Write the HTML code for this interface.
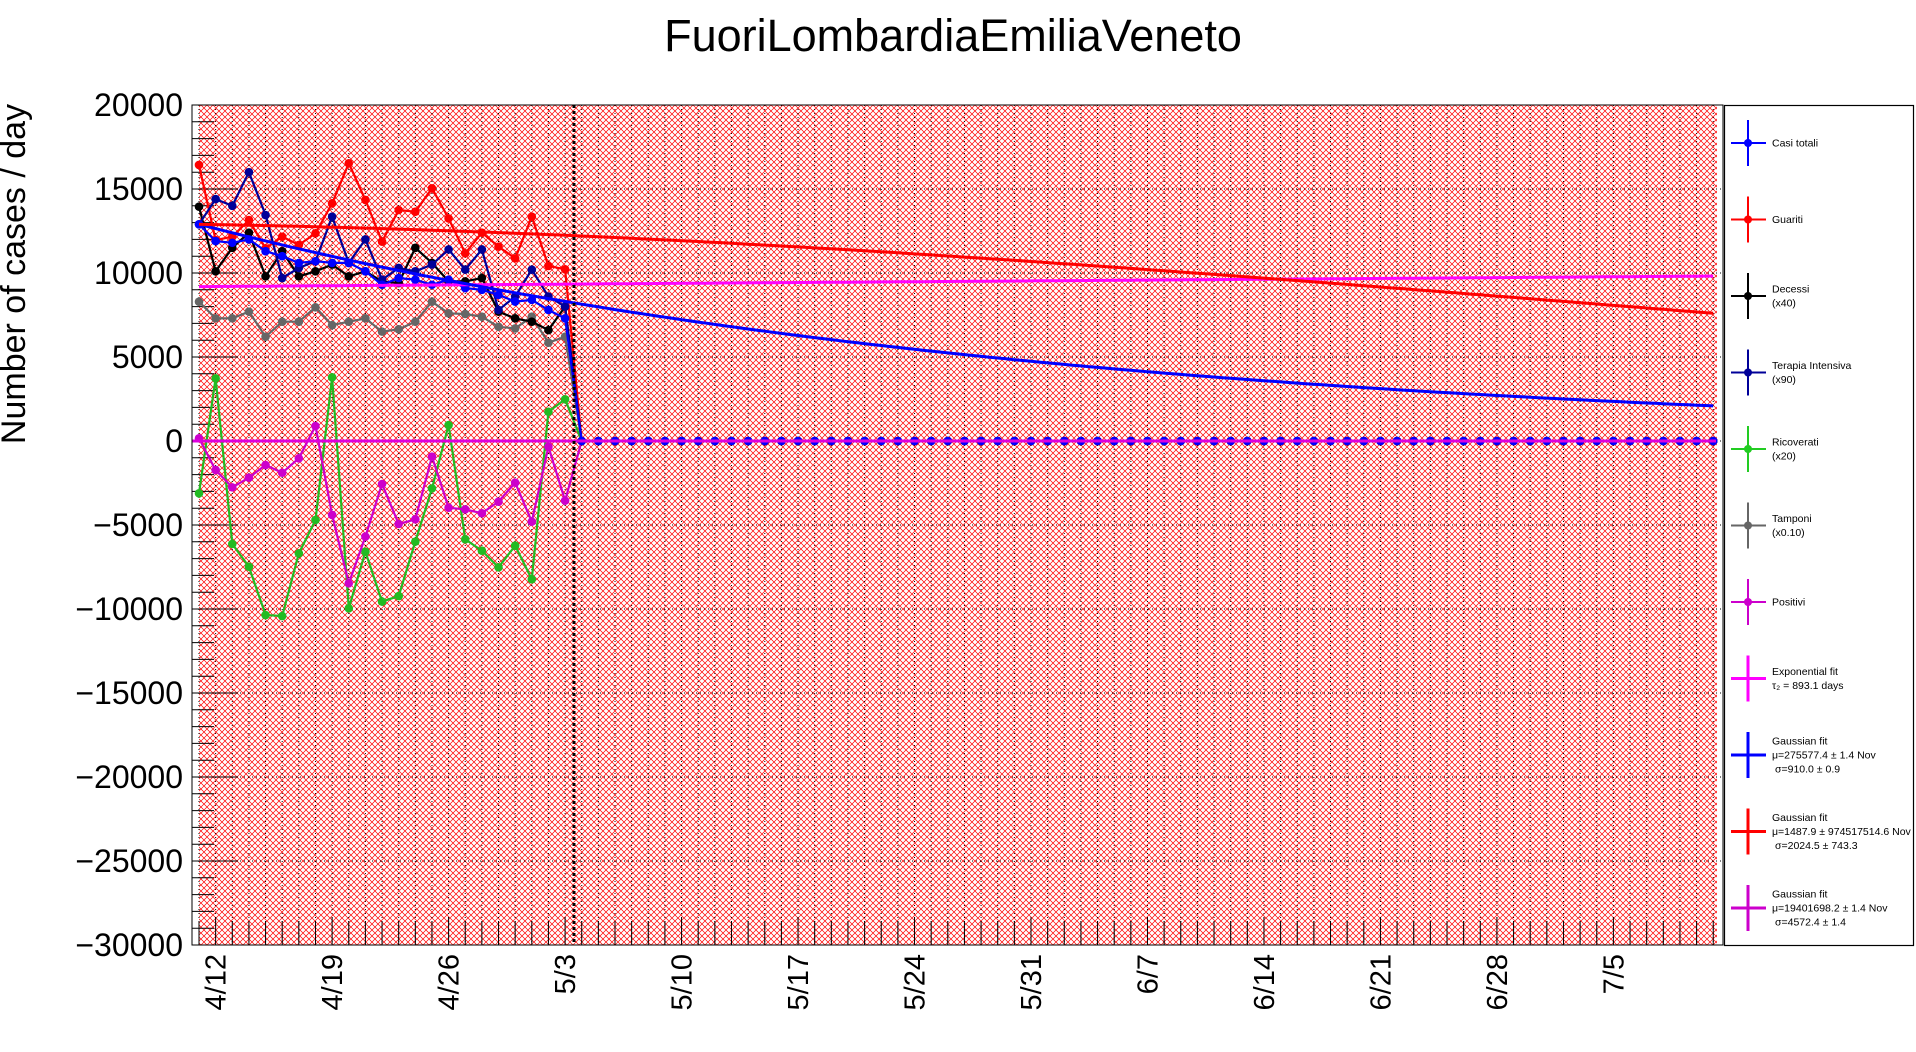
<!DOCTYPE html>
<html><head><meta charset="utf-8">
<style>
html,body{margin:0;padding:0;background:#fff;}
svg{display:block;font-family:"Liberation Sans",Arial,sans-serif;}
</style></head>
<body>
<svg id="chart" width="1916" height="1052" viewBox="0 0 1916 1052" xmlns="http://www.w3.org/2000/svg">
<defs>
<pattern id="hatch" patternUnits="userSpaceOnUse" width="6" height="6">
<path d="M0,0 L6,6 M6,0 L0,6" stroke="#ff0000" stroke-width="0.7" fill="none"/>
<rect x="2.6" y="2.6" width="0.8" height="0.8" fill="#ff0000"/>
</pattern>
</defs>
<text x="953" y="51" font-size="45" text-anchor="middle">FuoriLombardiaEmiliaVeneto</text>
<text x="0" y="0" font-size="34" text-anchor="middle" transform="translate(25,274) rotate(-90)">Number of cases / day</text>
<g id="plot"></g>
<g id="legend"></g>
</svg>
<script>
// ---- data (days from 4/11) ----
const dateLabels = ["4/12","4/19","4/26","5/3","5/10","5/17","5/24","5/31","6/7","6/14","6/21","6/28","7/5"];
const yTicks = [20000,15000,10000,5000,0,-5000,-10000,-15000,-20000,-25000,-30000];
const casiTotali = [12900,11900,11800,12000,11300,11000,10600,10700,10600,10600,10100,9300,9700,9600,9300,9600,9100,9000,8700,8300,8400,7800,7300];
const guariti = [16430,11960,12160,13150,11470,12160,11670,12360,14150,16530,14350,11870,13750,13650,15040,13250,11170,12400,11570,10870,13350,10420,10220];
const decessi = [13950,10100,11500,12400,9800,11300,9800,10100,10500,9800,10100,9500,9400,11500,10600,9500,9500,9700,7700,7300,7100,6600,8000];
const terapia = [12900,14400,14000,16000,13450,9700,10300,10700,13350,10600,12000,9600,10300,10100,10500,11400,10200,11400,7800,8600,10200,8600,8000];
const ricoverati = [-3115,3730,-6130,-7480,-10360,-10420,-6690,-4700,3790,-9960,-6590,-9560,-9230,-5990,-2820,950,-5850,-6530,-7520,-6230,-8230,1740,2480];
const tamponi = [8290,7300,7300,7700,6210,7100,7100,7960,6900,7100,7300,6510,6650,7100,8290,7600,7560,7400,6800,6700,7400,5850,6210];
const positivi = [160,-1730,-2760,-2180,-1430,-1890,-1030,890,-4400,-8470,-5690,-2560,-4940,-4660,-930,-3970,-4070,-4300,-3610,-2480,-4800,-340,-3550];
const nDays = 92;
// fit parameters
const expFit = {a:9190, tau:1378};
const blueFit = {a:12900, tau:50};
const redFit = {a:13000, mu:-12.6, sigma:100};

// ---- axes ----
const X0 = 199, DX = 16.64, Y0 = 441, KY = 0.0168;
const LEFT = 192, RIGHT = 1723, TOP = 105, BOTTOM = 945;
function xs(d){ return X0 + DX*d; }
function ys(v){ return Y0 - v*KY; }

const NS = "http://www.w3.org/2000/svg";
function mk(tag, attrs, parent){
  const e = document.createElementNS(NS, tag);
  for (const k in attrs) e.setAttribute(k, attrs[k]);
  parent.appendChild(e); return e;
}
const plot = document.getElementById('plot');

const bg = mk('rect',{x:LEFT,y:TOP,width:RIGHT-LEFT,height:BOTTOM-TOP,fill:'#fff'},plot);


const hatch = mk('rect',{x:X0,y:TOP,width:1717-X0,height:BOTTOM-TOP,fill:'url(#hatch)'},plot);



// grid
const grid = mk('g',{stroke:'#000','stroke-width':1,'stroke-dasharray':'1,3'},plot);


for (let d=0; d<nDays; d++){
  const gl = mk('line',{x1:xs(d),x2:xs(d),y1:TOP,y2:BOTTOM},grid);
  
  
}
yTicks.forEach(v=>{
  const gl = mk('line',{x1:LEFT,x2:RIGHT,y1:ys(v),y2:ys(v)},grid);
  
  
});

// ticks
const ticks = mk('g',{stroke:'#000','stroke-width':1},plot);


for (let v=-30000; v<=20000; v+=1000){
  const major = v % 5000 === 0;
  const t = mk('line',{x1:LEFT,x2:LEFT+(major?46:22),y1:ys(v),y2:ys(v)},ticks);
  
  
}
for (let d=0; d<nDays; d++){
  const major = (d-1) % 7 === 0;
  const t = mk('line',{x1:xs(d),x2:xs(d),y1:BOTTOM,y2:BOTTOM-(major?28:24)},ticks);
  
  
}
yTicks.forEach(v=>{
  const t = mk('text',{x:183,y:ys(v)+11,'font-size':32,'text-anchor':'end'},plot);
  
  
  t.textContent = (v<0?'\u2212':'')+Math.abs(v);
});
dateLabels.forEach((s,i)=>{
  const d = 1+7*i;
  const t = mk('text',{x:0,y:0,'font-size':29,'text-anchor':'end',transform:`translate(${xs(d)+10},954) rotate(-90)`},plot);
  
  
  t.textContent = s;
});

// series
function full(arr){ const o=[]; for(let d=0; d<nDays; d++) o.push(d<arr.length?arr[d]:0); return o; }
function drawSeries(arr, color, name){
  const g = mk('g',{},plot);
  
  
  const vals = full(arr);
  const pts = vals.map((v,d)=>xs(d).toFixed(1)+','+ys(v).toFixed(1)).join(' ');
  const pl = mk('polyline',{points:pts,fill:'none',stroke:color,'stroke-width':2.2},g);
  
  
  vals.forEach((v,d)=>{
    const c = mk('circle',{cx:xs(d),cy:ys(v),r:4.3,fill:color},g);
    
    
  });
}
drawSeries(tamponi,'#666666','series-tamponi');
drawSeries(ricoverati,'#22bb22','series-ricoverati');
drawSeries(positivi,'#cc00cc','series-positivi');
drawSeries(decessi,'#000000','series-decessi');
drawSeries(guariti,'#ff0000','series-guariti');
drawSeries(terapia,'#000099','series-terapia-intensiva');
drawSeries(casiTotali,'#0000ff','series-casi-totali');

function drawFit(fn, color, name){
  const p=[];
  for (let d=0; d<=91; d+=0.5) p.push(xs(d).toFixed(1)+','+ys(fn(d)).toFixed(1));
  const pl = mk('polyline',{points:p.join(' '),fill:'none',stroke:color,'stroke-width':3},plot);
  
  
}
drawFit(d=>expFit.a*Math.exp(d/expFit.tau),'#ff00ff','exponential-fit');
drawFit(d=>blueFit.a*Math.exp(-d/blueFit.tau),'#0000ff','gaussian-fit-blue');
drawFit(d=>redFit.a*Math.exp(-Math.pow(d-redFit.mu,2)/(2*redFit.sigma*redFit.sigma)),'#ff0000','gaussian-fit-red');
const zl = mk('line',{x1:LEFT,x2:1716,y1:ys(0),y2:ys(0),stroke:'#dd00dd','stroke-width':3},plot);



const vl = mk('line',{x1:574,x2:574,y1:TOP,y2:BOTTOM,stroke:'#000','stroke-width':3,'stroke-dasharray':'3,3'},plot);



const fr = mk('rect',{x:LEFT,y:TOP,width:RIGHT-LEFT,height:BOTTOM-TOP,fill:'none',stroke:'#000','stroke-width':1},plot);



// legend
const leg = document.getElementById('legend');
const lb = mk('rect',{x:1724.5,y:105.5,width:189,height:840,fill:'#fff',stroke:'#000','stroke-width':1.2},leg);


const legendNames = ["Casi totali","Guariti","Decessi","Terapia Intensiva","Ricoverati","Tamponi","Positivi","Exponential fit","Gaussian fit","Gaussian fit","Gaussian fit"];
const legendSub = [[],[],["(x40)"],["(x90)"],["(x20)"],["(x0.10)"],[],["\u03C4\u2082 = 893.1 days"],["\u03BC=275577.4  \u00B1 1.4 Nov","\u03C3=910.0  \u00B1 0.9"],["\u03BC=1487.9  \u00B1 974517514.6 Nov","\u03C3=2024.5  \u00B1 743.3"],["\u03BC=19401698.2   \u00B1 1.4 Nov","\u03C3=4572.4  \u00B1 1.4"]];
const legendColors = ['#0000ff','#ff0000','#000000','#000099','#22cc22','#666666','#cc00cc','#ff00ff','#0000ff','#ff0000','#cc00cc'];
legendNames.forEach((n,i)=>{
  const cy = 143 + i*76.5;
  const g = mk('g',{},leg);
  
  
  const col = legendColors[i];
  const fit = i>=7;
  mk('line',{x1:1748,x2:1748,y1:cy-23,y2:cy+23,stroke:col,'stroke-width':fit?3:2},g);
  mk('line',{x1:1731,x2:1766,y1:cy,y2:cy,stroke:col,'stroke-width':fit?3:2},g);
  if(!fit) mk('circle',{cx:1748,cy:cy,r:4,fill:col},g);
  const lines = [n].concat(legendSub[i]);
  const start = cy - (lines.length-1)*7 + 3.5;
  lines.forEach((s,k)=>{
    const t = mk('text',{x:(k>0&&s.startsWith('\u03C3'))?1775:1772,y:start+k*14,'font-size':10.5},g);
    
    
    t.textContent = s;
  });
});
</script>
</body></html>
